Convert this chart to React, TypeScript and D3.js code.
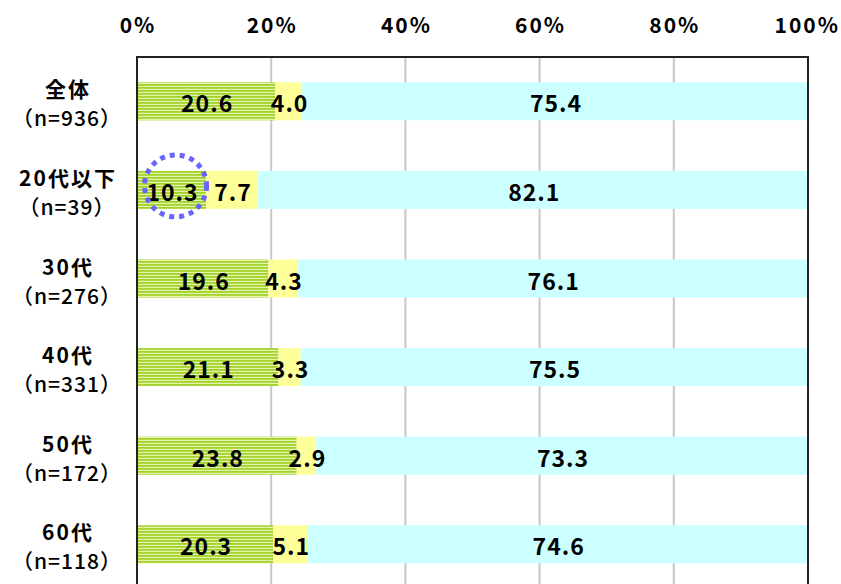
import React from "react";
import * as d3 from "d3";

const categories = ["全体", "20代以下", "30代", "40代", "50代", "60代"];
const counts = ["（n=936）", "（n=39）", "（n=276）", "（n=331）", "（n=172）", "（n=118）"];
const seriesA = [20.6, 10.3, 19.6, 21.1, 23.8, 20.3];
const seriesB = [4.0, 7.7, 4.3, 3.3, 2.9, 5.1];
const seriesC = [75.4, 82.1, 76.1, 75.5, 73.3, 74.6];
const ticks = [0, 20, 40, 60, 80, 100];

const W = 841;
const H = 584;
const left = 137;
const right = 808;
const top = 57;

const fills = ["url(#stripe)", "#ffff99", "#ccffff"];
const font = "'Noto Sans CJK JP', 'Noto Sans', sans-serif";

export default function App() {
  const x = d3.scaleLinear().domain([0, 100]).range([left, right]);
  const y = d3
    .scaleBand()
    .domain(categories)
    .range([top, top + 6 * 88.6])
    .paddingInner(0.57)
    .paddingOuter(0.285);

  const rows = categories.map((c, i) => {
    const vals = [seriesA[i], seriesB[i], seriesC[i]];
    let acc = 0;
    const segs = vals.map((v, k) => {
      const s = { x0: acc, x1: acc + v, v, k };
      acc += v;
      return s;
    });
    return { c, i, segs };
  });

  const bw = y.bandwidth();

  return (
    <svg
      width={W}
      height={H}
      style={{ position: "absolute", left: 0, top: 0, background: "#fff" }}
    >
      <defs>
        <pattern id="stripe" width={6} height={3} patternUnits="userSpaceOnUse">
          <rect width={6} height={3} fill="#e4f3b0" />
          <rect width={6} height={1.8} fill="#a3d22a" />
        </pattern>
      </defs>

      {/* gridlines */}
      {ticks.slice(1, -1).map((t) => (
        <line
          key={t}
          x1={x(t)}
          x2={x(t)}
          y1={top}
          y2={H}
          stroke="#c8c8c8"
          strokeWidth={2}
        />
      ))}

      {/* tick labels, the last one pulled inside the page */}
      {ticks.map((t) => (
        <text
          key={t}
          x={t === 100 ? 840 : x(t) + 1}
          y={24}
          textAnchor={t === 100 ? "end" : "middle"}
          dominantBaseline="central"
          fontFamily={font}
          fontSize={21}
          fontWeight={700}
          letterSpacing={2}
        >
          {t}%
        </text>
      ))}

      {/* bars */}
      {rows.map((r) => (
        <g key={r.c}>
          {r.segs.map((s) => (
            <rect
              key={s.k}
              x={x(s.x0)}
              y={y(r.c)}
              width={x(s.x1) - x(s.x0)}
              height={bw}
              fill={fills[s.k]}
            />
          ))}
          {r.segs.map((s) => (
            <text
              key={"t" + s.k}
              x={(x(s.x0) + x(s.x1)) / 2 + 1}
              y={(y(r.c) as number) + bw / 2 + 1}
              textAnchor="middle"
              dominantBaseline="central"
              fontFamily={font}
              fontSize={23}
              fontWeight={700}
              letterSpacing={1}
            >
              {s.v.toFixed(1)}
            </text>
          ))}
          <text
            x={68}
            y={(y(r.c) as number) + bw / 2 - 13}
            textAnchor="middle"
            dominantBaseline="central"
            fontFamily={font}
            fontSize={21}
            fontWeight={700}
            letterSpacing={2}
          >
            {r.c}
          </text>
          <text
            x={67}
            y={(y(r.c) as number) + bw / 2 + 16}
            textAnchor="middle"
            dominantBaseline="central"
            fontFamily={font}
            fontSize={21}
            fontWeight={500}
            letterSpacing={1}
          >
            {counts[r.i]}
          </text>
        </g>
      ))}

      {/* frame */}
      <line x1={left} x2={right} y1={top} y2={top} stroke="#222" strokeWidth={2} />
      <line x1={left} x2={left} y1={top - 1} y2={H} stroke="#222" strokeWidth={2} />
      <line x1={right} x2={right} y1={top - 1} y2={H} stroke="#222" strokeWidth={2} />

      {/* highlight */}
      <circle
        cx={x(seriesA[1] / 2) + 4}
        cy={(y(categories[1]) as number) + bw / 2 - 4}
        r={31}
        fill="none"
        stroke="#6666ff"
        strokeWidth={5}
        strokeDasharray="5 5"
      />
    </svg>
  );
}
